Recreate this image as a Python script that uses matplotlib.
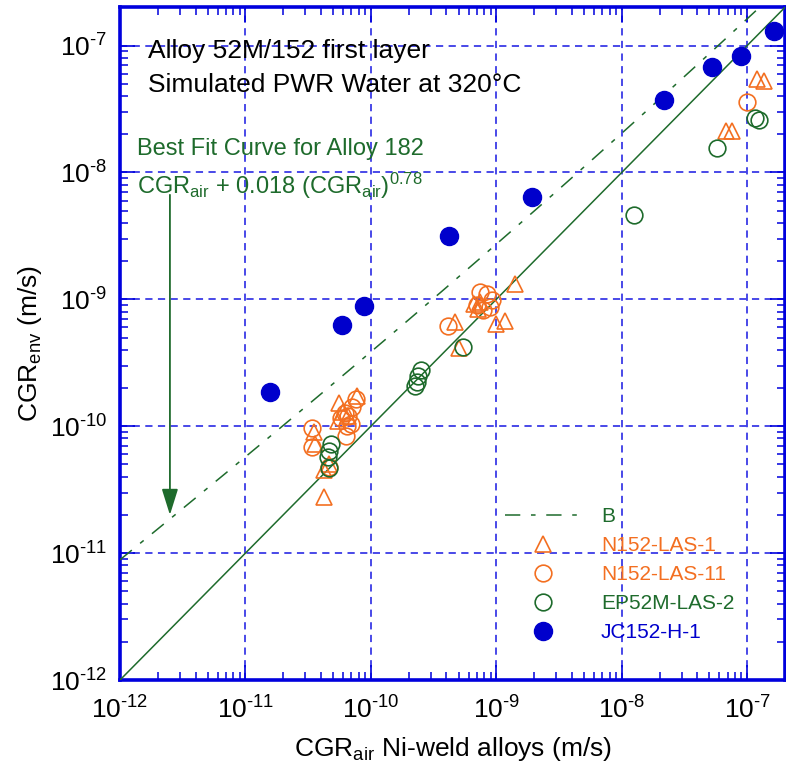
import numpy as np
import matplotlib
matplotlib.use("Agg")
import matplotlib.pyplot as plt
from matplotlib.ticker import LogLocator, FixedLocator, FuncFormatter, NullFormatter

plt.rcParams['font.family'] = ['Liberation Sans', 'DejaVu Sans']
plt.rcParams['mathtext.fontset'] = 'custom'
plt.rcParams['mathtext.rm'] = 'Liberation Sans'
plt.rcParams['mathtext.it'] = 'Liberation Sans'
plt.rcParams['mathtext.bf'] = 'Liberation Sans:bold'

# ---------------- data ----------------
n152_las1_x = [5.6e-11, 7.7e-11, 6.0e-11, 6.6e-11, 5.5e-11, 3.5e-11, 3.6e-11, 4.6e-11, 4.2e-11, 4.2e-11,
               6.6e-10, 7.4e-10, 7.2e-10, 4.7e-10, 1.0e-9, 1.17e-9, 5.0e-10, 1.41e-9,
               6.8e-8, 7.5e-8, 1.2e-7, 1.36e-7]
n152_las1_y = [1.53e-10, 1.73e-10, 1.3e-10, 1.2e-10, 1.1e-10, 9.0e-11, 7.3e-11, 5.0e-11, 4.5e-11, 2.75e-11,
               9.25e-10, 9.5e-10, 8.4e-10, 6.6e-10, 6.4e-10, 6.8e-10, 4.1e-10, 1.33e-9,
               2.13e-8, 2.13e-8, 5.46e-8, 5.26e-8]

n152_las11_x = [7.56e-11, 7.1e-11, 6.2e-11, 6.6e-11, 5.8e-11, 7.0e-11, 6.5e-11, 6.3e-11, 3.4e-11, 3.4e-11, 4.6e-11,
                7.43e-10, 8.4e-10, 9.2e-10, 7.0e-10, 7.9e-10, 8.9e-10, 4.1e-10,
                9.9e-8]
n152_las11_y = [1.64e-10, 1.41e-10, 1.28e-10, 1.2e-10, 1.15e-10, 1.05e-10, 1.0e-10, 8.4e-11, 9.6e-11, 6.8e-11, 4.8e-11,
                1.14e-9, 1.11e-9, 9.8e-10, 9.0e-10, 8.2e-10, 8.7e-10, 6.2e-10,
                3.6e-8]

ep52m_las2_x = [4.79e-11, 4.65e-11, 4.59e-11, 4.6e-11,
                2.52e-10, 2.37e-10, 2.33e-10, 2.26e-10,
                5.47e-10, 1.24e-8, 5.78e-8, 1.15e-7, 1.24e-7]
ep52m_las2_y = [7.25e-11, 6.4e-11, 5.7e-11, 4.66e-11,
                2.75e-10, 2.48e-10, 2.23e-10, 2.06e-10,
                4.2e-10, 4.6e-9, 1.55e-8, 2.68e-8, 2.59e-8]

jc152_h1_x = [1.56e-11, 5.93e-11, 8.87e-11, 4.2e-10, 1.92e-9, 2.19e-8, 5.27e-8, 8.95e-8, 1.64e-7]
jc152_h1_y = [1.87e-10, 6.3e-10, 8.9e-10, 3.14e-9, 6.4e-9, 3.74e-8, 6.8e-8, 8.2e-8, 1.31e-7]

decades = [1e-12, 1e-11, 1e-10, 1e-9, 1e-8, 1e-7]
fit_coef = 0.018
fit_exp = 0.78
axis_min, axis_max = 1e-12, 2e-7
arrow_x = 2.5e-12
arrow_y_start, arrow_y_end = 7.0e-9, 1.9e-11

# ---------------- style ----------------
GREEN = '#1e6b2c'
ORANGE = '#f36f21'
BLUE = '#0000cc'
SPINE = '#0000dd'
GRID = '#3a3ae6'

fig = plt.figure(figsize=(7.86, 7.74), dpi=100)
ax = fig.add_axes([120/786, 1-680/774, 665/786, 672.7/774])

ax.set_xscale('log')
ax.set_yscale('log')
ax.set_xlim(axis_min, axis_max)
ax.set_ylim(axis_min, axis_max)

xx = np.logspace(np.log10(axis_min), np.log10(axis_max), 400)
ax.plot(xx, xx + fit_coef * xx**fit_exp, color=GREEN, lw=1.1,
        linestyle=(0, (10, 7, 3, 7)), label='B', zorder=3)
ax.plot(xx, xx, color=GREEN, lw=1.1, zorder=3)

ax.plot(n152_las1_x, n152_las1_y, linestyle='none', marker='^', ms=11.5, mfc='none',
        mec=ORANGE, mew=1.2, color=ORANGE, label='N152-LAS-1', zorder=4)
ax.plot(n152_las11_x, n152_las11_y, linestyle='none', marker='o', ms=12, mfc='none',
        mec=ORANGE, mew=1.2, color=ORANGE, label='N152-LAS-11', zorder=4)
ax.plot(ep52m_las2_x, ep52m_las2_y, linestyle='none', marker='o', ms=12, mfc='none',
        mec=GREEN, mew=1.2, color=GREEN, label='EP52M-LAS-2', zorder=5)
ax.plot(jc152_h1_x, jc152_h1_y, linestyle='none', marker='o', ms=13, mfc=BLUE,
        mec=BLUE, color=BLUE, label='JC152-H-1', zorder=6)

# grid
ax.grid(True, which='major', color=GRID, linestyle=(0, (4, 3)), lw=1.3)
ax.set_axisbelow(True)

for s in ax.spines.values():
    s.set_color(SPINE)
    s.set_linewidth(2.6)


def dec_fmt(v, pos):
    e = int(round(np.log10(v)))
    if e < 0:
        return r'$\mathregular{10^{\text{-}%d}}$' % (-e)
    return r'$\mathregular{10^{%d}}$' % e


minor_ticks = [m * d for d in decades for m in range(2, 10) if m * d <= axis_max]
for axis in (ax.xaxis, ax.yaxis):
    axis.set_major_locator(FixedLocator(decades))
    axis.set_minor_locator(FixedLocator(minor_ticks))
    axis.set_major_formatter(FuncFormatter(dec_fmt))
    axis.set_minor_formatter(NullFormatter())

ax.tick_params(which='both', direction='in', top=True, right=True, color=SPINE)
ax.tick_params(which='major', length=11, width=1.2, labelsize=19, pad=12)
ax.tick_params(which='minor', length=6, width=1.1)
ax.tick_params(axis='y', pad=9)

ax.set_xlabel(r'CGR$_{\mathrm{air}}$ Ni-weld alloys (m/s)', fontsize=19, labelpad=8)
ax.set_ylabel(r'CGR$_{\mathrm{env}}$ (m/s)', fontsize=19, labelpad=4)

# annotations
ax.text(0.042, 1 - (58 - 7.3)/672.7, 'Alloy 52M/152 first layer', transform=ax.transAxes,
        fontsize=19, color='black', va='baseline', ha='left')
ax.text(0.042, 1 - (92 - 7.3)/672.7, 'Simulated PWR Water at 320\u00b0C', transform=ax.transAxes,
        fontsize=19, color='black', va='baseline', ha='left')
ax.text(0.025, 1 - (155 - 7.3)/672.7, 'Best Fit Curve for Alloy 182', transform=ax.transAxes,
        fontsize=17, color=GREEN, va='baseline', ha='left')
ax.text(0.025, 1 - (194 - 7.3)/672.7,
        r'CGR$_{\mathrm{air}}$ + 0.018 (CGR$_{\mathrm{air}}$)$^{\mathrm{0.78}}$',
        transform=ax.transAxes, fontsize=17, color=GREEN, va='baseline', ha='left')
ax.annotate('', xy=(arrow_x, arrow_y_end), xytext=(arrow_x, arrow_y_start),
            arrowprops=dict(arrowstyle='-|>,head_length=1.6,head_width=0.5', color=GREEN, lw=1.3))

leg = ax.legend(loc='upper left', bbox_to_anchor=((505-120)/665, 1 - (507 - 7.3)/672.7),
                frameon=False, fontsize=15, handlelength=3.6, handletextpad=1.0,
                labelspacing=0.48, borderpad=0, borderaxespad=0)
for txt, col in zip(leg.get_texts(), [GREEN, ORANGE, ORANGE, GREEN, BLUE]):
    txt.set_color(col)

fig.savefig('out.png', dpi=100)
